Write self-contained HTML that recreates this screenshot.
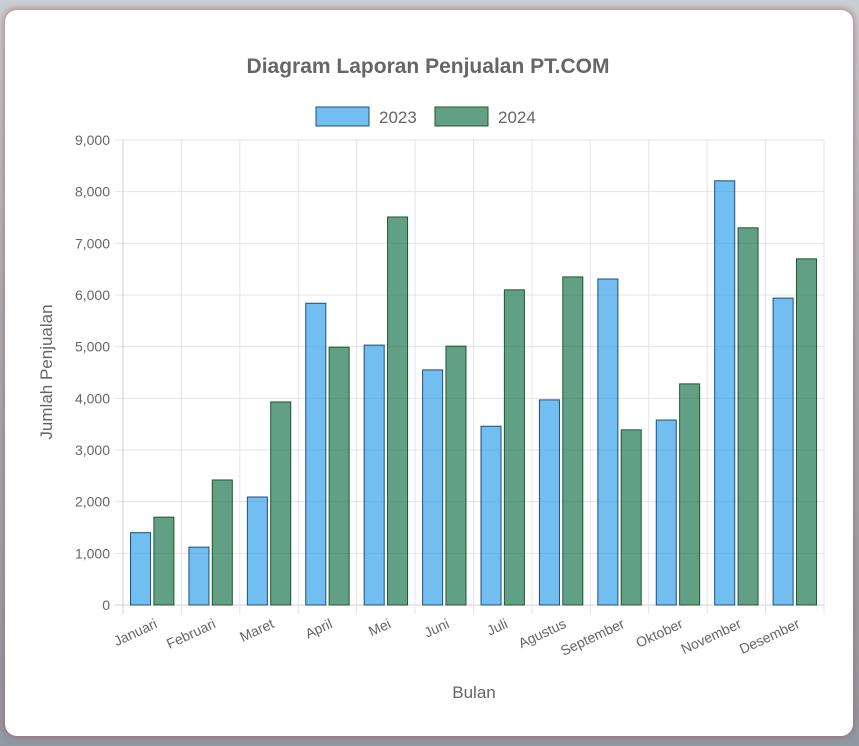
<!DOCTYPE html>
<html><head><meta charset="utf-8"><style>
html,body{margin:0;padding:0;width:859px;height:746px;overflow:hidden;background:linear-gradient(180deg,#c9cfd3 0%,#a9b3bb 40%,#8e99a3 100%);font-family:"Liberation Sans",sans-serif}
#card{position:absolute;left:5px;top:10px;width:848px;height:726px;background:#fff;border-radius:12px;box-shadow:0 0 6px 2px rgba(170,90,90,.55)}
svg{position:absolute;left:0;top:0}
</style></head><body>
<div id="card"></div>
<svg id="chart" width="859" height="746"></svg>
<script>
const categories=["Januari","Februari","Maret","April","Mei","Juni","Juli","Agustus","September","Oktober","November","Desember"];
const series2023=[1400,1120,2090,5840,5030,4550,3460,3970,6310,3580,8210,5940];
const series2024=[1700,2420,3930,4990,7510,5010,6100,6350,3390,4280,7300,6700];
const yTicks=[0,1000,2000,3000,4000,5000,6000,7000,8000,9000];
const yTickLabels=["0","1,000","2,000","3,000","4,000","5,000","6,000","7,000","8,000","9,000"];
const seriesNames=["2023","2024"];
const NS="http://www.w3.org/2000/svg";
const svg=document.getElementById('chart');
const L=123,R=824,T=140,B=605,YMAX=9000;
const y=v=>B-(v/YMAX)*(B-T);
const cw=(R-L)/categories.length;
const x=i=>L+i*cw;
function mk(t,a){const e=document.createElementNS(NS,t);for(const k in a)e.setAttribute(k,a[k]);svg.appendChild(e);return e;}
// grid
yTicks.forEach((v,i)=>{
 const g=mk('line',{x1:L-8,x2:R,y1:y(v),y2:y(v),stroke:i==0?'#d0d0d0':'#e4e4e4','stroke-width':1});
 
 
 const t=mk('text',{x:L-13,y:y(v)+5,'text-anchor':'end','font-size':14,fill:'#666'});
 t.textContent=yTickLabels[i];
 
 
});
for(let i=0;i<=categories.length;i++){
 const g=mk('line',{x1:x(i),x2:x(i),y1:T,y2:B+9,stroke:i==0?'#d0d0d0':'#e4e4e4','stroke-width':1});
 
 
}
const colors=[["rgba(54,162,235,0.7)","#1f4e79"],["rgba(30,120,80,0.7)","#1e5a2a"]];
const bw=cw*0.8/2*0.9;
categories.forEach((c,i)=>{
 [series2023,series2024].forEach((s,j)=>{
  const bx=x(i)+cw*0.1+j*cw*0.4+cw*0.4*0.05;
  const r=mk('rect',{x:bx+0.5,y:y(s[i]),width:bw-1,height:B-y(s[i]),fill:colors[j][0],stroke:colors[j][1],'stroke-width':1});
  
  
 });
 const cx=x(i)+cw/2+6, cy=B+22;
 const t=mk('text',{x:cx,y:cy,'text-anchor':'end','font-size':14,fill:'#666',transform:`rotate(-25 ${cx} ${cy})`});
 t.textContent=c;
 
 
});
const title=mk('text',{x:428,y:73,'text-anchor':'middle','font-size':21,'font-weight':'bold',fill:'#666'});
title.textContent="Diagram Laporan Penjualan PT.COM";


const lx=[316,435];
seriesNames.forEach((n,j)=>{
 const r=mk('rect',{x:lx[j],y:107,width:53,height:19,fill:colors[j][0],stroke:colors[j][1],'stroke-width':1});
 
 
 const t=mk('text',{x:lx[j]+63,y:123,'font-size':17,fill:'#666'});
 t.textContent=n;
 
 
});
const xt=mk('text',{x:474,y:698,'text-anchor':'middle','font-size':17,fill:'#666'});
xt.textContent="Bulan";


const yt=mk('text',{x:52,y:372,'text-anchor':'middle','font-size':17,fill:'#666',transform:'rotate(-90 52 372)'});
yt.textContent="Jumlah Penjualan";


</script>
</body></html>
